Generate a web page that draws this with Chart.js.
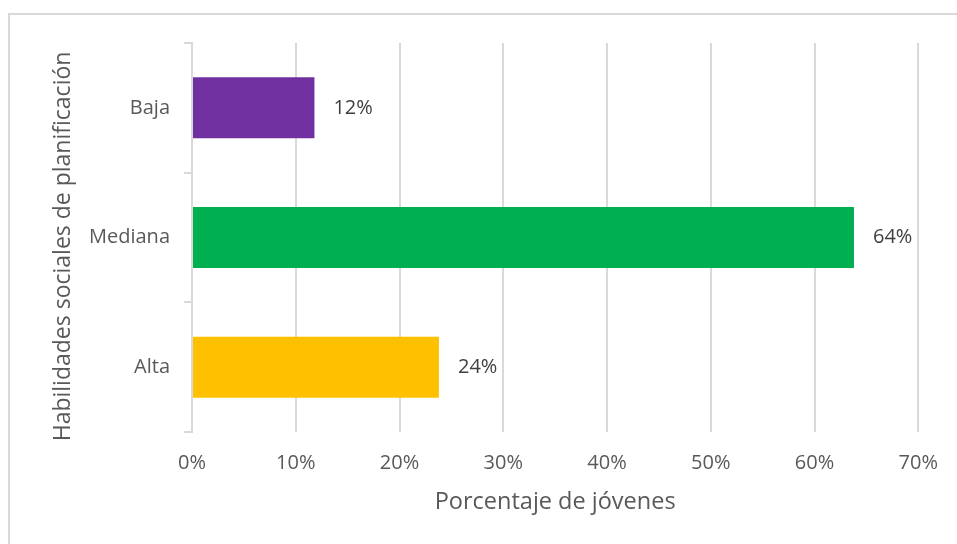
<!DOCTYPE html>
<html lang="es">
<head>
<meta charset="utf-8">
<title>Habilidades sociales de planificación</title>
<script src="https://cdn.jsdelivr.net/npm/chart.js@4.4.1/dist/chart.umd.min.js"></script>
<style>
  html, body { margin: 0; padding: 0; background: #fff; }
  .frame {
    position: absolute; left: 8px; top: 13px; width: 960px; height: 540px;
    border-top: 2px solid #d9d9d9; border-left: 2px solid #d9d9d9;
  }
  .chart-box { position: absolute; left: 0; top: 0; width: 957px; height: 544px; }
</style>
</head>
<body>
<div class="frame"></div>
<div class="chart-box"><canvas id="planChart"></canvas></div>
<script>
// Data
const categories = ['Baja', 'Mediana', 'Alta'];
const percentages = [11.8, 63.8, 23.8];
const barColors = ['#7030A0', '#00B050', '#FFC000'];
const xTicks = [0, 10, 20, 30, 40, 50, 60, 70];

const textColor = '#595959';
const gridColor = '#d9d9d9';
const fontFamily = '"Open Sans", "Noto Sans", sans-serif';

// Value labels at the end of each bar
const barLabels = {
  id: 'barLabels',
  afterDatasetsDraw(chart) {
    const ctx = chart.ctx;
    const meta = chart.getDatasetMeta(0);
    ctx.save();
    ctx.font = '20px ' + fontFamily;
    ctx.fillStyle = '#404040';
    ctx.textAlign = 'left';
    ctx.textBaseline = 'middle';
    meta.data.forEach((bar, i) => {
      ctx.fillText(Math.round(percentages[i]) + '%', bar.x + 19, bar.y);
    });
    ctx.restore();
  }
};

new Chart(document.getElementById('planChart'), {
  type: 'bar',
  data: {
    labels: categories,
    datasets: [{
      data: percentages,
      backgroundColor: barColors,
      borderWidth: 0,
      categoryPercentage: 1,
      barPercentage: 0.47
    }]
  },
  options: {
    indexAxis: 'y',
    responsive: true,
    maintainAspectRatio: false,
    animation: false,
    layout: { padding: { left: 0, top: 43, right: 38, bottom: 0 } },
    plugins: {
      legend: { display: false },
      tooltip: { enabled: false }
    },
    scales: {
      x: {
        min: 0,
        max: 70,
        afterBuildTicks: (scale) => {
          scale.ticks = xTicks.map(v => ({ value: v }));
        },
        afterFit: (scale) => { scale.height = 112; },
        grid: { color: gridColor, lineWidth: 2, drawTicks: false },
        border: { display: false },
        ticks: {
          color: textColor,
          padding: 19,
          font: { family: fontFamily, size: 20 },
          callback: (v) => v + '%'
        },
        title: {
          display: true,
          text: 'Porcentaje de jóvenes',
          color: textColor,
          font: { family: fontFamily, size: 23.5 },
          padding: { top: 0, bottom: 28 }
        }
      },
      y: {
        afterFit: (scale) => { scale.width = 192; },
        grid: { color: gridColor, lineWidth: 2, drawOnChartArea: false, tickLength: 8 },
        border: { color: gridColor, width: 2 },
        ticks: {
          color: textColor,
          padding: 14,
          font: { family: fontFamily, size: 20 }
        },
        title: {
          display: true,
          // trailing spaces nudge the rotated title a bit lower, like the original
          text: 'Habilidades sociales de planificación   ',
          color: textColor,
          font: { family: fontFamily, size: 23 },
          padding: { top: 50, bottom: 0 }
        }
      }
    }
  },
  plugins: [barLabels]
});
</script>
</body>
</html>
